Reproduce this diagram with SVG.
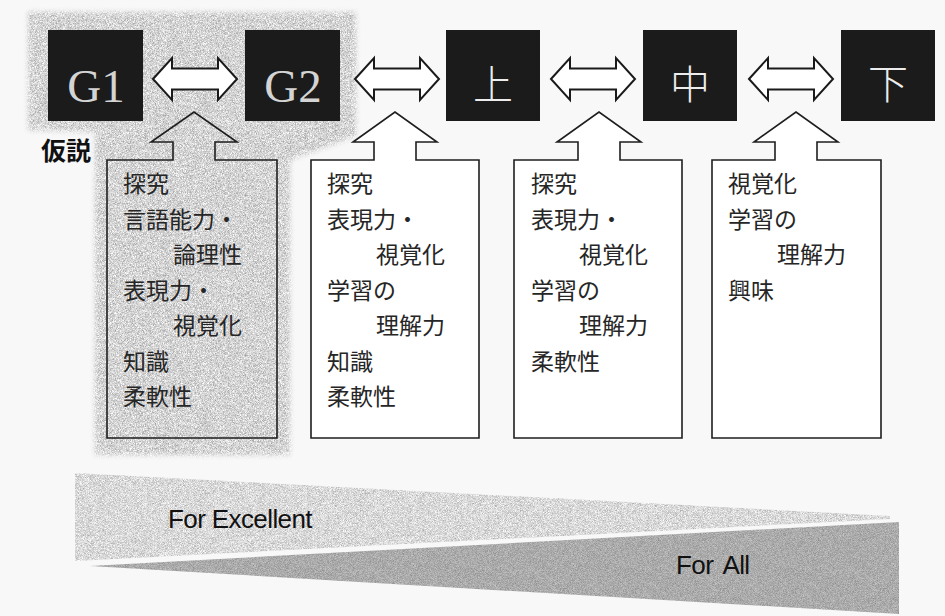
<svg xmlns="http://www.w3.org/2000/svg" xmlns:xlink="http://www.w3.org/1999/xlink" width="945" height="616" viewBox="0 0 945 616">
  <style>
    .blk { fill: #1b1b1b; }
    .gl { font-family: "Liberation Serif", "Times New Roman", serif; font-size: 47px; fill: #d4d4d4; text-anchor: middle; }
    .kj { font-family: "Noto Sans CJK JP", "Noto Sans CJK SC", sans-serif; font-size: 40px; font-weight: 300; fill: #ececec; text-anchor: middle; }
    .frame { fill: #ffffff; stroke: #1e1e1e; stroke-width: 1.6; stroke-linejoin: miter; }
    .frame0 { fill: none; stroke: #1e1e1e; stroke-width: 1.6; stroke-linejoin: miter; }
    .harrow { fill: #ffffff; stroke: #1a1a1a; stroke-width: 2; stroke-linejoin: miter; }
    .t { font-family: "Noto Sans CJK JP", "Noto Sans CJK SC", sans-serif; font-size: 23px; fill: #262626; }
    .hyp { font-family: "Noto Sans CJK JP", "Noto Sans CJK SC", sans-serif; font-size: 25px; font-weight: 700; fill: #111111; }
    .en { font-family: "Liberation Sans", Arial, sans-serif; font-size: 26px; fill: #111111; letter-spacing: -0.6px; }
  </style>
  <defs>
    <filter id="texGray" x="-5%" y="-5%" width="110%" height="110%" color-interpolation-filters="sRGB">
      <feGaussianBlur in="SourceGraphic" stdDeviation="2.5" result="sh"/>
      <feTurbulence type="fractalNoise" baseFrequency="1.6" numOctaves="1" seed="4" result="n"/>
      <feColorMatrix in="n" type="matrix" values="0.7 0 0 0 0.48  0.7 0 0 0 0.48  0.7 0 0 0 0.48  0 0 0 0 1" result="g"/>
      <feComposite in="g" in2="sh" operator="in"/>
    </filter>
    <filter id="texLight" x="0" y="0" width="100%" height="100%" color-interpolation-filters="sRGB">
      <feTurbulence type="fractalNoise" baseFrequency="1.6" numOctaves="1" seed="7" result="n"/>
      <feColorMatrix in="n" type="matrix" values="0.6 0 0 0 0.55  0.6 0 0 0 0.55  0.6 0 0 0 0.55  0 0 0 0 1" result="g"/>
      <feComposite in="g" in2="SourceGraphic" operator="in"/>
    </filter>
    <filter id="texDark" x="0" y="0" width="100%" height="100%" color-interpolation-filters="sRGB">
      <feTurbulence type="fractalNoise" baseFrequency="1.6" numOctaves="1" seed="9" result="n"/>
      <feColorMatrix in="n" type="matrix" values="0.4 0 0 0 0.47  0.4 0 0 0 0.47  0.4 0 0 0 0.47  0 0 0 0 1" result="g"/>
      <feComposite in="g" in2="SourceGraphic" operator="in"/>
    </filter>
    <path id="dbl" d="M0,0 L19,-21 L19,-10.5 L65,-10.5 L65,-21 L84,0 L65,21 L65,10.5 L19,10.5 L19,21 Z"/>
  </defs>

  <!-- page -->
  <rect x="0" y="0" width="945" height="616" fill="#f8f8f8"/>

  <!-- hypothesis gray area -->
  <g id="hypothesis-area">
    <path d="M28,12 L356,12 L356,136 L290,160 L290,455 L95,455 L95,132 L28,130 Z" fill="#000" filter="url(#texGray)"/>
  </g>

  <!-- black level nodes -->
  <g id="node-G1">
    <rect class="blk" x="48" y="30" width="95" height="91"/>
    <text class="gl" x="96" y="102">G1</text>
  </g>
  <g id="node-G2">
    <rect class="blk" x="245" y="30" width="95" height="91"/>
    <text class="gl" x="293" y="102">G2</text>
  </g>
  <g id="node-jo">
    <rect class="blk" x="446" y="30" width="94" height="91"/>
    <text class="kj" x="493" y="99">上</text>
  </g>
  <g id="node-chu">
    <rect class="blk" x="643" y="30" width="94" height="91"/>
    <text class="kj" x="690" y="99">中</text>
  </g>
  <g id="node-ge">
    <rect class="blk" x="841" y="30" width="94" height="91"/>
    <text class="kj" x="888" y="99">下</text>
  </g>

  <!-- connectors: double-headed block arrows -->
  <g id="connectors">
    <use xlink:href="#dbl" class="harrow" transform="translate(153,79)"/>
    <use xlink:href="#dbl" class="harrow" transform="translate(355,79)"/>
    <use xlink:href="#dbl" class="harrow" transform="translate(551,79)"/>
    <use xlink:href="#dbl" class="harrow" transform="translate(749,79)"/>
  </g>

  <!-- label -->
  <g id="label-hypothesis">
    <text class="hyp" x="41" y="160">仮説</text>
  </g>

  <!-- trait boxes with upward arrows -->
  <g id="node-box1">
    <path class="frame0" d="M107,160 L173,160 L173,142 L151,142 L194,112 L237,142 L215,142 L215,160 L277,160 L277,438 L107,438 Z"/>
    <text class="t" x="123" y="192">探究</text>
    <text class="t" x="123" y="228">言語能力・</text>
    <text class="t" x="173" y="263">論理性</text>
    <text class="t" x="123" y="299">表現力・</text>
    <text class="t" x="173" y="334">視覚化</text>
    <text class="t" x="123" y="370">知識</text>
    <text class="t" x="123" y="405">柔軟性</text>
  </g>
  <g id="node-box2">
    <path class="frame" d="M311,160 L374,160 L374,142 L353,142 L395,112 L437,142 L416,142 L416,160 L479,160 L479,438 L311,438 Z"/>
    <text class="t" x="327" y="192">探究</text>
    <text class="t" x="327" y="228">表現力・</text>
    <text class="t" x="376" y="263">視覚化</text>
    <text class="t" x="327" y="299">学習の</text>
    <text class="t" x="376" y="334">理解力</text>
    <text class="t" x="327" y="370">知識</text>
    <text class="t" x="327" y="405">柔軟性</text>
  </g>
  <g id="node-box3">
    <path class="frame" d="M514,160 L578,160 L578,142 L557,142 L599,112 L641,142 L620,142 L620,160 L682,160 L682,438 L514,438 Z"/>
    <text class="t" x="531" y="192">探究</text>
    <text class="t" x="531" y="228">表現力・</text>
    <text class="t" x="579" y="263">視覚化</text>
    <text class="t" x="531" y="299">学習の</text>
    <text class="t" x="579" y="334">理解力</text>
    <text class="t" x="531" y="370">柔軟性</text>
  </g>
  <g id="node-box4">
    <path class="frame" d="M712,160 L775,160 L775,142 L754,142 L796,112 L838,142 L817,142 L817,160 L881,160 L881,438 L712,438 Z"/>
    <text class="t" x="728" y="192">視覚化</text>
    <text class="t" x="728" y="228">学習の</text>
    <text class="t" x="777" y="263">理解力</text>
    <text class="t" x="728" y="299">興味</text>
  </g>

  <!-- bottom wedges -->
  <g id="wedge-excellent">
    <path d="M75,473 L890,516 L890,519 L75,561 Z" fill="#000" filter="url(#texLight)"/>
    <text class="en" x="168" y="528">For Excellent</text>
  </g>
  <g id="wedge-all">
    <path d="M90,566 L899,522 L899,614 Z" fill="#000" filter="url(#texDark)"/>
    <text class="en" x="676" y="574" word-spacing="4">For All</text>
  </g>
</svg>
